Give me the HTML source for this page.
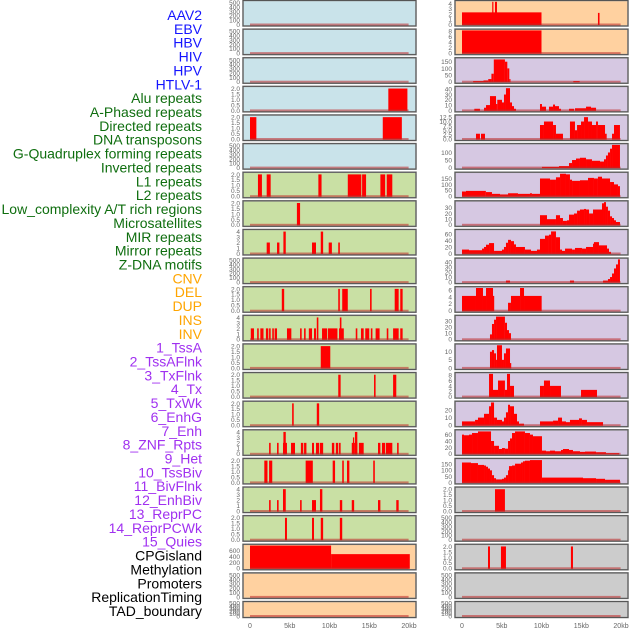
<!DOCTYPE html>
<html><head><meta charset="utf-8"><title>Genomic features</title>
<style>
html,body{margin:0;padding:0;background:#fff;}
svg{display:block;font-family:"Liberation Sans",sans-serif;}
</style></head>
<body>
<svg id="chart" width="630" height="630" viewBox="0 0 630 630" xmlns="http://www.w3.org/2000/svg">
<g id="labels"></g>
<g id="panels"></g>
<g id="xaxes"></g>
</svg>
<script>
// ---------- data ----------
const trackLabels = ["AAV2","EBV","HBV","HIV","HPV","HTLV-1","Alu repeats","A-Phased repeats","Directed repeats","DNA transposons","G-Quadruplex forming repeats","Inverted repeats","L1 repeats","L2 repeats","Low_complexity A/T rich regions","Microsatellites","MIR repeats","Mirror repeats","Z-DNA motifs","CNV","DEL","DUP","INS","INV","1_TssA","2_TssAFlnk","3_TxFlnk","4_Tx","5_TxWk","6_EnhG","7_Enh","8_ZNF_Rpts","9_Het","10_TssBiv","11_BivFlnk","12_EnhBiv","13_ReprPC","14_ReprPCWk","15_Quies","CPGisland","Methylation","Promoters","ReplicationTiming","TAD_boundary"];
const labelGroups = [0,0,0,0,0,0,1,1,1,1,1,1,1,1,1,1,1,1,1,2,2,2,2,2,3,3,3,3,3,3,3,3,3,3,3,3,3,3,3,4,4,4,4,4];
const xTickValues = [0,5,10,15,20];
const xTickLabels = ["0","5kb","10kb","15kb","20kb"];

const T500=[0,100,200,300,400,500], T2=[0,0.5,1,1.5,2], T4=[0,1,2,3,4];
const leftTicks=[T500,T500,T500,T2,T2,T500,T2,T2,T4,T500,T2,T4,T2,T2,T2,T4,T2,T4,T2,[0,200,400,600],T500,T500];
const leftYmax=[520,520,520,2.08,2.08,520,2.08,2.08,4.15,520,2.08,4.15,2.08,2.08,2.08,4.15,2.08,4.15,2.08,770,520,520];
const rightTicks=[[0,1,2,3,4],[0,2,4,6,8],[0,50,100,150],[0,10,20,30,40],[0,2.5,5,7.5,10,12.5],[0,50,100],[0,50,100,150],[0,10,20,30],[0,20,40,60],[0,10,20,30,40],[0,2,4,6],[0,10,20,30],[0,5,10],[0,2,4,6,8],[0,10,20],[0,20,40,60],[0,50,100,150],T2,T500,T2,T500,T500];
const rightYmax=[4.3,8.2,170,43,13,150,192,40,70,45,6.6,37,14,8.5,30,71,188,2.08,520,2.08,520,520];

const L01=[],L02=[],L03=[];
const L04=[[17.4,19.8,2]];
const L05=[[0,0.8,2],[16.7,19.1,2]];
const L06=[];
const L07=[[1.0,1.5,2],[2.1,2.6,2],[8.6,9.0,2],[12.3,14.0,2],[14.1,14.6,2],[16.4,17.0,2],[17.2,17.9,2]];
const L08=[[5.9,6.3,2]];
const L09=[[2.1,2.5,2],[3.4,3.7,2],[4.2,4.5,4],[7.8,8.3,2],[8.9,9.2,4],[9.9,10.3,2],[11.1,11.3,2]];
const L10=[];
const L11=[[4.0,4.3,2],[11.1,11.3,2],[11.6,12.3,2],[15.1,15.3,2],[18.2,18.7,2],[18.9,19.2,2]];
const L12=[[0.1,0.5,2],[0.9,1.1,2],[1.3,1.7,2],[2.0,2.3,2],[2.4,2.6,2],[2.8,3.0,2],[3.1,3.4,2],[4.65,5.2,2],[6.3,6.5,2],[6.8,7.0,2],[7.4,7.8,2],[8.05,8.3,2],[8.4,8.6,4],[9.06,9.7,2],[9.8,11.0,2],[11.2,11.8,2],[11.3,11.5,4],[13.3,13.5,2],[13.96,14.3,2],[14.5,15.0,2],[15.2,15.4,2],[15.8,16.3,2],[17.2,17.4,2],[18.0,18.7,2],[18.9,19.2,2]];
const L13=[[8.9,10.1,2]];
const L14=[[11.1,11.4,2],[15.6,15.8,2],[18.0,18.4,2]];
const L15=[[5.3,5.5,2],[8.4,8.7,2]];
const L16=[[2.4,2.6,2],[3.4,3.6,2],[4.15,4.65,2],[4.2,4.5,4],[5.16,5.66,2],[6.4,6.7,2],[6.8,7.1,2],[7.8,8.05,2],[8.3,8.7,2],[8.8,9.2,2],[10.3,10.6,2],[10.8,11.1,2],[11.2,11.4,2],[12.8,13.1,2],[12.95,13.1,3],[13.1,13.5,2],[13.2,13.5,4],[13.7,14.3,2],[16.1,16.4,2],[16.6,17.0,2],[17.1,17.9,2],[18.5,18.7,2]];
const L17=[[1.8,2.2,2],[2.4,2.8,2],[7.0,7.9,2],[10.4,10.7,2],[11.6,11.8,2],[12.2,12.5,2],[15.5,15.7,2]];
const L18=[[2.4,2.6,2],[3.4,3.6,2],[4.15,4.5,4],[6.3,6.5,2],[7.8,8.3,2],[8.8,9.1,4],[11.3,11.6,2],[12.8,13.1,2],[16.1,16.4,2],[18.4,18.7,2]];
const L19=[[4.4,4.65,2],[7.8,8.05,2],[8.9,9.2,2],[11.3,11.6,2]];
const L20=[[0,10.2,770],[10.2,20.1,480]];
const L21=[],L22=[];

const R01=[[0,10.0,2.3],[3.8,3.9,4.3],[4.15,4.4,4.3],[17.1,17.3,2.2]];
const R02=[[0,10.0,8.2]];
const R03=[[1.4,2.7,5],[2.7,3.3,10],[3.3,3.7,20],[3.7,4.0,60],[4.0,5.4,167],[5.4,5.7,150],[5.7,5.95,100],[5.95,6.1,20],[14.0,14.8,5]];
const R04=[[1.55,2.26,3],[2.77,3.02,5],[3.02,3.52,10],[3.52,4.28,27],[4.28,4.44,12],[4.44,5.03,20],[5.03,5.28,15],[5.28,5.53,30],[5.53,6.04,42],[6.04,6.29,15],[6.29,6.54,8],[6.54,6.79,3],[9.81,10.06,12],[10.06,10.57,7],[10.94,11.45,7],[11.45,11.7,11],[11.7,12.2,8],[12.2,12.45,3],[13.46,14.09,3],[14.21,15.6,4],[15.6,16.23,7],[16.23,16.86,5]];
const R05=[[1.76,2.26,3],[2.39,2.89,3],[9.81,10.31,8],[10.31,11.45,10],[11.45,11.82,8],[11.82,12.7,3],[13.58,14.21,10],[14.21,14.47,5],[14.47,14.97,8],[14.97,15.35,10],[15.35,15.85,12.5],[15.85,16.35,10],[16.35,16.86,8],[16.86,17.1,10],[17.1,17.99,8],[17.99,18.2,3],[18.87,19.12,3],[19.12,19.87,8]];
const R06=[[10.06,12.2,5],[12.2,13.46,10],[13.46,13.84,30],[13.84,14.34,50],[14.34,14.84,60],[14.84,15.6,65],[15.6,16.35,55],[16.35,17.36,45],[17.36,17.86,40],[17.86,18.11,55],[18.11,18.36,80],[18.36,18.62,100],[18.62,18.87,125],[18.87,19.87,150]];
const R07=[[0,0.5,40],[0.5,3.0,45],[3.0,3.77,35],[3.77,4.78,20],[4.78,5.79,15],[5.79,7.04,25],[7.04,8.55,20],[8.55,8.8,25],[8.8,9.81,20],[9.81,11.07,150],[11.07,11.82,140],[11.82,12.33,160],[12.33,13.08,190],[13.08,13.58,185],[13.58,13.84,140],[13.84,14.84,130],[14.84,15.85,135],[15.85,16.6,155],[16.6,17.1,150],[17.1,17.61,165],[17.61,18.62,150],[18.62,19.12,120],[19.12,19.62,100],[19.62,19.87,85]];
const R08=[[9.81,10.69,17],[10.69,11.82,10],[11.82,12.33,17],[12.33,12.7,12],[12.7,13.2,7],[13.2,13.46,8],[13.46,14.09,18],[14.09,14.47,20],[14.47,14.84,25],[14.84,15.35,27],[15.35,15.6,28],[15.6,15.98,27],[15.98,16.48,20],[16.48,17.61,27],[17.61,17.86,38],[17.86,18.11,40],[18.11,18.36,32],[18.36,18.62,25],[18.62,18.87,15],[18.87,19.12,12],[19.12,19.37,8],[19.37,19.87,5]];
const R09=[[0,0.88,12],[0.88,2.52,10],[2.52,2.77,15],[2.77,3.02,20],[3.02,3.4,27],[3.4,4.03,32],[4.03,5.03,8],[5.03,5.28,12],[5.28,5.53,20],[5.53,5.79,33],[5.79,6.16,42],[6.16,6.54,38],[6.54,6.79,28],[6.79,7.92,20],[7.92,8.68,12],[8.68,9.43,8],[9.43,9.81,12],[9.81,10.44,45],[10.44,10.94,55],[10.94,11.2,58],[11.2,11.82,68],[11.82,12.33,50],[12.33,12.58,12],[12.58,12.96,8],[12.96,13.84,15],[13.84,14.21,12],[14.21,15.09,17],[15.09,15.6,15],[15.6,16.48,20],[16.48,16.6,30],[16.6,17.23,35],[17.23,18.24,25],[18.24,18.49,15],[18.49,18.74,5]];
const R10=[[5.53,6.04,3],[13.58,14.09,3],[17.74,18.36,3],[18.36,18.62,6],[18.62,18.87,10],[18.87,19.12,17],[19.12,19.37,27],[19.37,19.62,35],[19.62,19.87,45]];
const R11=[[0,1.76,4.3],[1.76,2.64,6.6],[2.64,3.02,4.3],[3.02,3.9,6.6],[3.9,4.03,4.3],[5.79,6.16,2.3],[6.16,7.3,4.3],[7.3,7.8,6.6],[7.8,10.02,4.3]];
const R12=[[3.52,3.77,8],[3.77,4.03,25],[4.03,4.28,32],[4.28,5.4,37],[5.4,5.66,27],[5.66,5.91,15],[5.91,6.16,10]];
const R13=[[3.52,3.77,10],[3.77,4.03,11],[4.03,4.28,9],[4.28,4.4,5],[4.4,5.03,14],[5.03,5.28,5],[5.28,5.53,9],[5.53,6.04,12],[6.04,6.16,3]];
const R14=[[3.4,3.9,8.5],[3.9,4.53,2.5],[4.53,5.4,6],[5.4,5.66,2.5],[5.66,6.04,8.5],[6.04,6.54,4],[9.81,10.31,4],[10.31,11.07,6],[11.07,12.45,4],[14.97,16.98,2.5]];
const R15=[[0,1.64,5],[1.64,2.01,7],[2.01,2.77,10],[2.77,3.4,15],[3.4,3.65,25],[3.65,4.03,30],[4.03,4.4,10],[4.4,5.03,7],[5.03,5.28,5],[5.28,5.53,10],[5.53,5.79,17],[5.79,6.04,27],[6.04,6.54,25],[6.54,6.92,15],[6.92,7.17,5],[7.17,7.8,2],[9.81,11.45,5],[11.45,12.08,6],[12.08,12.58,10],[12.58,13.08,5],[13.08,13.58,4],[13.58,14.72,7],[14.72,15.09,9],[15.09,15.72,7],[15.72,17.74,4]];
const R16=[[0,0.25,60],[0.25,0.88,58],[0.88,1.26,60],[1.26,2.01,65],[2.01,3.65,70],[3.65,4.03,40],[4.03,4.65,25],[4.65,5.03,15],[5.03,5.4,18],[5.4,5.79,16],[5.79,6.04,40],[6.04,6.29,48],[6.29,6.67,65],[6.67,7.92,70],[7.92,8.55,65],[8.55,8.93,60],[8.93,10.06,55],[10.06,10.57,10],[10.57,11.07,8],[11.07,11.7,10],[11.7,12.45,8],[12.45,12.7,12],[12.7,13.46,15],[13.46,13.96,12],[13.96,14.84,8],[14.84,15.47,6],[15.47,16.86,7],[16.86,18.11,5],[18.11,19.75,2]];
const R17=[[0,1.13,165],[1.13,2.01,160],[2.01,2.77,145],[2.77,3.02,140],[3.02,3.27,130],[3.27,3.52,115],[3.52,3.77,100],[3.77,4.03,60],[4.03,4.28,35],[4.28,5.03,25],[5.03,5.28,30],[5.28,5.53,40],[5.53,5.79,60],[5.79,5.91,100],[5.91,6.29,135],[6.29,6.67,140],[6.67,7.42,155],[7.42,7.67,165],[7.67,7.92,175],[7.92,8.55,180],[8.55,10.06,185],[10.06,15.22,40],[15.22,16.86,35],[16.86,17.99,30],[17.99,19.87,22]];
const R18=[[4.15,5.4,2]];
const R19=[];
const R20=[[3.27,3.52,2],[4.9,5.53,2],[13.7,13.96,2]];
const R21=[],R22=[];

const leftData=[L01,L02,L03,L04,L05,L06,L07,L08,L09,L10,L11,L12,L13,L14,L15,L16,L17,L18,L19,L20,L21,L22];
const rightData=[R01,R02,R03,R04,R05,R06,R07,R08,R09,R10,R11,R12,R13,R14,R15,R16,R17,R18,R19,R20,R21,R22];
const leftNames=trackLabels.slice(0,22), rightNames=trackLabels.slice(22);

// ---------- styling / layout ----------
const NS="http://www.w3.org/2000/svg";
const groupColors=["#1414ff","#0f6e0f","#ffa500","#a030f0","#000000"];
const bgColors={b:"#c9e3ea",g:"#c9e0a4",o:"#ffd1a0",p:"#d6c8e2",s:"#cccccc"};
const leftBg="bbbbbbgggggggggggggooo".split("");
const rightBg="oopppppppppppppppsssss".split("");
const colX=[243,455], panelW=173, rowStep=28.62, panelH=25.5;
function xScale(col,kb){return colX[col]+7+kb*7.95;}
function yScale(top,h,ymax,v){return top+h-1.5-(v/ymax)*(h-2.8);}
function mk(tag,attrs,parent){const e=document.createElementNS(NS,tag);for(const k in attrs)e.setAttribute(k,attrs[k]);parent.appendChild(e);return e;}
function fmt(ticks,v){const dec=ticks.some(t=>t%1!==0);return dec?v.toFixed(1):String(v);}

const gl=document.getElementById("labels");
trackLabels.forEach((t,i)=>{
  const tx=mk("text",{x:202,y:(15+i*13.86+5).toFixed(1),"text-anchor":"end","font-size":"14",fill:groupColors[labelGroups[i]]},gl);
  
  
  tx.textContent=t;
});

const gp=document.getElementById("panels");
function drawPanel(col,i,bars,ticks,ymax,bg,name){
  const top=i*rowStep+0.5, h=(i===21)?16:panelH, x0=colX[col];
  const g=mk("g",{},gp);
  
  
  const r=mk("rect",{x:x0,y:top,width:panelW,height:h,fill:bgColors[bg],stroke:"#9a9a9a","stroke-width":"1.6"},g);
  
  
  bars.forEach(b=>{
    const xa=xScale(col,b[0]), xb=xScale(col,b[1]);
    const yv=Math.max(top+0.5,yScale(top,h,ymax,b[2])), yb=yScale(top,h,ymax,0);
    const br=mk("rect",{x:xa.toFixed(2),y:yv.toFixed(2),width:Math.max(1.2,xb-xa).toFixed(2),height:(yb-yv+0.5).toFixed(2),fill:"#ff0000"},g);
    
    
  });
  const base=mk("rect",{x:xScale(col,0).toFixed(1),y:(yScale(top,h,ymax,0)-1).toFixed(1),width:(xScale(col,19.95)-xScale(col,0)).toFixed(1),height:2,fill:"rgba(190,40,40,0.55)"},g);
  
  
  const bd=mk("rect",{x:x0,y:top,width:panelW,height:h,fill:"none",stroke:"#555","stroke-width":"1"},g);
  
  
  ticks.forEach(t=>{
    const yy=yScale(top,h,ymax,t);
    const tl=mk("text",{x:x0-3,y:(yy+2.4).toFixed(1),"text-anchor":"end","font-size":"6.5",fill:"#666"},g);
    
    
    tl.textContent=fmt(ticks,t);
  });
}
for(let i=0;i<22;i++){
  drawPanel(0,i,leftData[i],leftTicks[i],leftYmax[i],leftBg[i],leftNames[i]);
  drawPanel(1,i,rightData[i],rightTicks[i],rightYmax[i],rightBg[i],rightNames[i]);
}

const gx=document.getElementById("xaxes");
[0,1].forEach(col=>{
  xTickValues.forEach((v,k)=>{
    const t=mk("text",{x:xScale(col,v).toFixed(1),y:628,"text-anchor":"middle","font-size":"7",fill:"#666"},gx);
    
    
    t.textContent=xTickLabels[k];
  });
});
</script>
</body></html>
